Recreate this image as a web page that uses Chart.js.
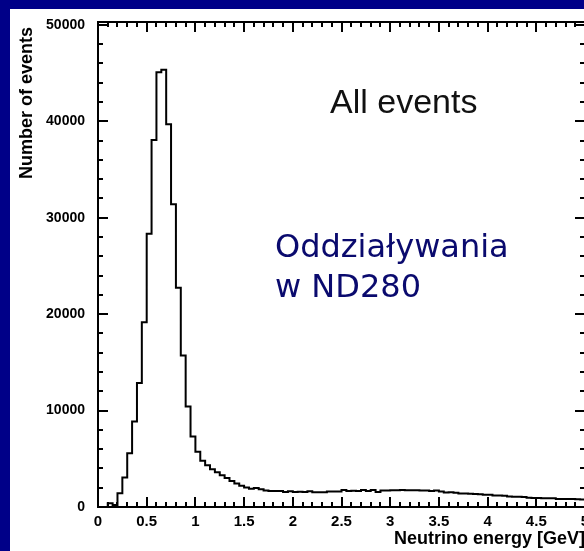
<!DOCTYPE html>
<html>
<head>
<meta charset="utf-8">
<script src="https://cdn.jsdelivr.net/npm/chart.js@4/dist/chart.umd.min.js"></script>
<style>
  html, body { margin: 0; padding: 0; }
  body { width: 584px; height: 551px; overflow: hidden; background: #000088; position: relative; }
  #panel { position: absolute; left: 10px; top: 9px; width: 600px; height: 560px; background: #fff; }
  #plot { position: absolute; left: 0; top: 0; }
</style>
</head>
<body>
<div id="panel"></div>
<canvas id="plot" width="600" height="551"></canvas>
<script>
// neutrino energy histogram, 0.05 GeV bins from 0 to 5 GeV
var BIN_WIDTH = 0.05
var eventCounts = [
  0, 0, 400, 200, 1420, 3050, 5580, 8870, 12860, 19160,
  28350, 38050, 45080, 45350, 39700, 31390, 22740, 15700, 10430, 7310,
  5720, 4800, 4340, 3920, 3600, 3300, 3000, 2700, 2450, 2200,
  2010, 1900, 1980, 1840, 1700, 1660, 1660, 1650, 1560, 1630,
  1560, 1570, 1560, 1630, 1530, 1540, 1530, 1600, 1610, 1600,
  1770, 1670, 1680, 1660, 1770, 1670, 1770, 1560, 1700, 1720,
  1750, 1740, 1760, 1730, 1750, 1740, 1720, 1700, 1660, 1700,
  1600, 1500, 1520, 1480, 1400, 1390, 1380, 1360, 1330, 1280,
  1260, 1190, 1180, 1160, 1080, 1070, 1060, 1040, 950, 940,
  940, 920, 910, 900, 840, 830, 830, 820, 800, 780
]
var xRange = [0, 5]
var yRange = [0, 50300]
var xTickLabels = ['0', '0.5', '1', '1.5', '2', '2.5', '3', '3.5', '4', '4.5', '5']
var yTickLabels = ['0', '10000', '20000', '30000', '40000', '50000']
var xMinorPerMajor = 5
var yMinorPerMajor = 5

var xTitle = 'Neutrino energy [GeV]'
var yTitle = 'Number of events '
var sampleLabel = 'All events'
var captionLines = ['Oddziaływania', 'w ND280']

var tickFont = { family: "'Liberation Sans', Arial, sans-serif", size: 15, weight: 'bold' }

function histogramPoints() {
  var pts = eventCounts.map(function (n, i) {
    return { x: i * BIN_WIDTH, y: n }
  })
  pts.push({ x: xRange[1], y: eventCounts[eventCounts.length - 1] })
  return pts
}

// labelled majors with unlabelled minors in between
function buildTicks(labels, perMajor, max) {
  var majors = labels.map(Number)
  var step = (majors[1] - majors[0]) / perMajor
  var ticks = []
  majors.forEach(function (m, i) {
    ticks.push({ value: m, major: true, label: labels[i] })
    for (var k = 1; k < perMajor; k++) {
      var v = m + k * step
      if (v <= max) ticks.push({ value: v, major: false, label: '' })
    }
  })
  return ticks
}

// inward ticks on all four sides plus the frame and the text boxes
var framePlugin = {
  id: 'frame',
  afterDatasetsDraw(chart) {
    var ctx = chart.ctx
    var a = chart.chartArea
    var xs = chart.scales.x
    var ys = chart.scales.y

    ctx.save()
    ctx.strokeStyle = '#000'
    ctx.lineWidth = 2
    ctx.beginPath()
    xs.ticks.forEach(function (t) {
      var px = Math.round(xs.getPixelForValue(t.value))
      var len = t.major ? 10 : 5
      ctx.moveTo(px, a.bottom)
      ctx.lineTo(px, a.bottom - len)
      ctx.moveTo(px, a.top)
      ctx.lineTo(px, a.top + len)
    })
    ys.ticks.forEach(function (t) {
      var py = Math.round(ys.getPixelForValue(t.value))
      var len = t.major ? 10 : 5
      ctx.moveTo(a.left, py)
      ctx.lineTo(a.left + len, py)
      ctx.moveTo(a.right, py)
      ctx.lineTo(a.right - len, py)
    })
    ctx.stroke()
    ctx.strokeRect(a.left, a.top, a.right - a.left, a.bottom - a.top)

    ctx.fillStyle = '#111'
    ctx.textBaseline = 'alphabetic'
    ctx.textAlign = 'left'
    ctx.font = "34px 'Liberation Sans', Arial, sans-serif"
    ctx.fillText(sampleLabel, 330, 113)

    ctx.fillStyle = '#0a0a6e'
    ctx.font = "32px 'DejaVu Sans', sans-serif"
    ctx.fillText(captionLines[0], 275, 257)
    ctx.fillText(captionLines[1], 275, 297)
    ctx.restore()
  }
}

var chart = new Chart(document.getElementById('plot'), {
  type: 'line',
  data: {
    datasets: [{
      data: histogramPoints(),
      stepped: 'before',
      borderColor: '#000',
      borderWidth: 2,
      pointRadius: 0,
      fill: false
    }]
  },
  options: {
    responsive: false,
    animation: false,
    devicePixelRatio: 1,
    layout: { padding: { left: 0, top: 22, right: 15, bottom: 0 } },
    plugins: { legend: { display: false }, tooltip: { enabled: false } },
    scales: {
      x: {
        type: 'linear',
        min: xRange[0],
        max: xRange[1],
        grid: { display: false, drawTicks: false },
        border: { display: false },
        afterBuildTicks: function (s) { s.ticks = buildTicks(xTickLabels, xMinorPerMajor, xRange[1]) },
        afterFit: function (s) { s.height = 44 },
        ticks: {
          autoSkip: false,
          maxRotation: 0,
          padding: 6,
          color: '#000',
          font: tickFont,
          callback: function (v, i, ticks) { return ticks[i].label }
        },
        title: {
          display: true,
          text: xTitle,
          align: 'end',
          color: '#000',
          font: { family: tickFont.family, size: 18, weight: 'bold', lineHeight: 1 },
          padding: { top: 0, bottom: 3 }
        }
      },
      y: {
        type: 'linear',
        min: yRange[0],
        max: yRange[1],
        grid: { display: false, drawTicks: false },
        border: { display: false },
        afterBuildTicks: function (s) { s.ticks = buildTicks(yTickLabels, yMinorPerMajor, yRange[1]) },
        afterFit: function (s) { s.width = 98 },
        ticks: {
          autoSkip: false,
          padding: 13,
          color: '#000',
          font: { family: tickFont.family, size: 14, weight: 'bold' },
          callback: function (v, i, ticks) { return ticks[i].label }
        },
        title: {
          display: true,
          text: yTitle,
          align: 'end',
          color: '#000',
          font: { family: tickFont.family, size: 18, weight: 'bold', lineHeight: 1 },
          padding: { top: 18, bottom: 0 }
        }
      }
    }
  },
  plugins: [framePlugin]
})
</script>
</body>
</html>
